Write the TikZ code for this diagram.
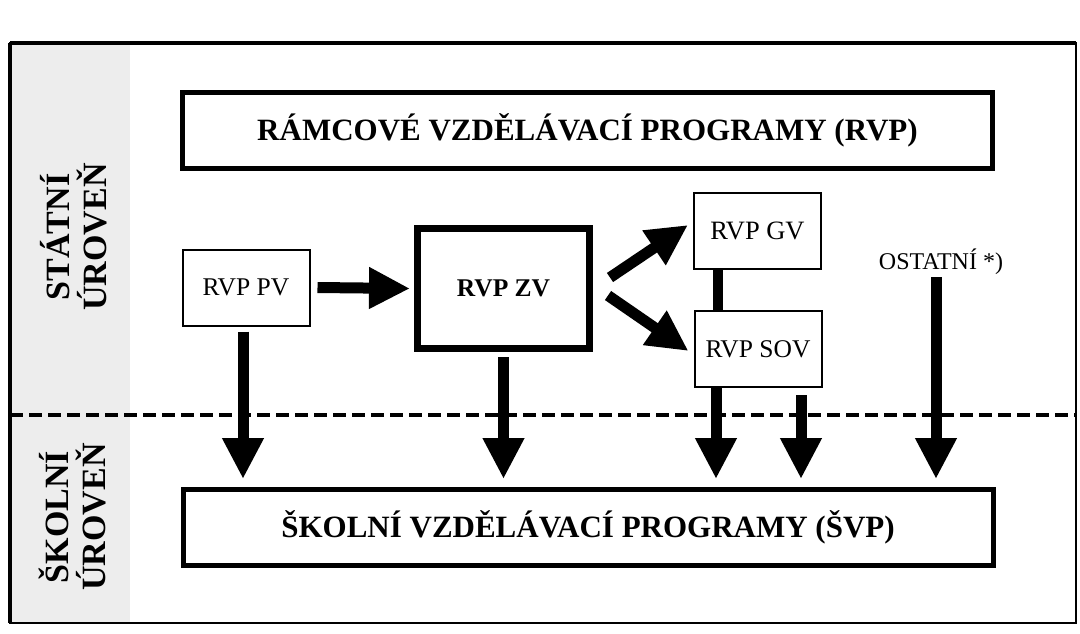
\documentclass[tikz,border=0pt]{standalone}
\usepackage{fontspec}
\setmainfont{Liberation Serif}
\usetikzlibrary{arrows.meta}

\tikzset{
  bigbox/.style={draw, line width=5pt, minimum width=810pt, minimum height=76pt,
    font=\fontsize{31}{36}\selectfont\bfseries},
  smallbox/.style={draw, line width=2pt, minimum width=127pt, minimum height=76pt,
    font=\fontsize{25.5}{30}\selectfont},
  level/.style={rotate=90, align=center, font=\fontsize{34}{37}\selectfont\bfseries},
  bigarrow/.style={line width=11pt, -{Triangle[width=39pt,length=41pt]}},
  link/.style={line width=10pt},
}

\begin{document}
\begin{tikzpicture}[x=1pt,y=-1pt]
    	\useasboundingbox (0,0) rectangle (1080,633);
    	\fill[gray!14] (10,43) rectangle (130,623);
    	\draw[line width=2pt] (10,43) rectangle (1076,623);
    	\draw[line width=4pt] (10,43) -- (1076,43);
    	\draw[line width=3.5pt] (10,43) -- (10,623);
    	\draw[line width=4.5pt, dash pattern=on 13pt off 6pt] (10,415) -- (1076,415);

    	\node[level] (statni) at (74,237) {STÁTNÍ\\ÚROVEŇ};
    	\node[level] (skolni) at (72,517) {ŠKOLNÍ\\ÚROVEŇ};

    	\node[bigbox] (rvp) at (587.5,130.5) {RÁMCOVÉ VZDĚLÁVACÍ PROGRAMY (RVP)};
    	\node[bigbox] (svp) at (588,527.5) {ŠKOLNÍ VZDĚLÁVACÍ PROGRAMY (ŠVP)};

    	\node[smallbox] (pv) at (246,287.5) {RVP PV};
    	\node[smallbox, line width=7pt, minimum width=172pt, minimum height=120pt,
    	  font=\fontsize{25.5}{30}\selectfont\bfseries] (zv) at (503.5,288.5) {RVP ZV};
    	\node[smallbox, font=\fontsize{26.5}{30}\selectfont] (gv) at (757.5,231) {RVP GV};
    	\node[smallbox] (sov) at (758,349) {RVP SOV};
    	\node[font=\fontsize{24}{28}\selectfont, inner sep=2pt] (ost) at (941,262) {OSTATNÍ *)};

    	\draw[bigarrow] ([xshift=7pt]pv.east) -- ([xshift=-4pt]zv.west);
    	\draw[bigarrow] ([xshift=17pt,yshift=11pt]zv.east) -- ([xshift=-5pt,yshift=6pt]gv.west);
    	\draw[bigarrow] ([xshift=15pt,yshift=-7pt]zv.east) -- ([xshift=-5pt,yshift=-2pt]sov.west);
    	\draw[link] ([xshift=-40pt]gv.south) -- ([xshift=-40pt]gv.south |- sov.north);

    	\draw[bigarrow, shorten >=8pt] ([xshift=-3pt,yshift=-5pt]pv.south) -- ([xshift=-3pt]pv.south |- svp.north);
    	\draw[bigarrow, shorten >=8pt] ([yshift=-5pt]zv.south) -- (zv.south |- svp.north);
    	\draw[bigarrow, shorten >=8pt] ([xshift=-42pt]sov.south) -- ([xshift=-42pt]sov.south |- svp.north);
    	\draw[bigarrow, shorten >=8pt] ([xshift=43pt,yshift=-7pt]sov.south) -- ([xshift=43pt]sov.south |- svp.north);
    	\draw[bigarrow, shorten >=8pt] ([xshift=-5pt]ost.south) -- ([xshift=-5pt]ost.south |- svp.north);
\end{tikzpicture}
\end{document}
